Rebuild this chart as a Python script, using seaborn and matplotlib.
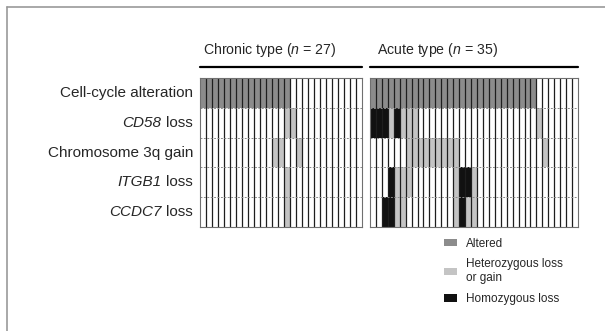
#!/usr/bin/env python3

import numpy as np
import matplotlib
matplotlib.use("Agg")
import matplotlib.pyplot as plt
from matplotlib.colors import ListedColormap
from matplotlib.patches import Patch
from matplotlib.lines import Line2D
from matplotlib.offsetbox import TextArea, HPacker, AnnotationBbox
import seaborn as sns

# row labels: italic part (gene name) + upright part
row_italic = ["", "CD58", "", "ITGB1", "CCDC7"]
row_plain = ["Cell-cycle alteration", "loss", "Chromosome 3q gain", "loss", "loss"]

# one string per row, one char per patient
# A = altered, H = heterozygous loss or gain, B = homozygous loss, . = none
chronic_rows = [
    "AAAAAAAAAAAAAAA............",
    "..............HH...........",
    "............HH..H..........",
    "..............H............",
    "..............H............",
]
acute_rows = [
    "AAAAAAAAAAAAAAAAAAAAAAAAAAAA.......",
    "BBBHBHHH....................H......",
    "......HHHHHHHHH..............H.....",
    "...BHHH.......HBBH.................",
    "..BBHH........HBHH.................",
]

panel_titles = [r"Chronic type ($\it{n}$ = 27)", r"Acute type ($\it{n}$ = 35)"]
legend_labels = ["Altered", "Heterozygous loss\nor gain", "Homozygous loss"]

code = {".": 0, "A": 1, "H": 2, "B": 3}
colors = ["#ffffff", "#8c8c8c", "#c4c4c4", "#111111"]


def to_matrix(rows):
    return np.array([[code[c] for c in r] for r in rows])


def add_row_labels(ax, nrow):
    ax.set_yticks([])
    for i in range(nrow):
        parts = []
        if row_italic[i]:
            parts.append(TextArea(row_italic[i],
                                  textprops=dict(fontsize=11, fontstyle="italic")))
        parts.append(TextArea(row_plain[i], textprops=dict(fontsize=11)))
        box = HPacker(children=parts, align="baseline", pad=0, sep=3.5)
        ab = AnnotationBbox(box, (-7 / 162, i + 0.5),
                            xycoords=ax.get_yaxis_transform(),
                            box_alignment=(1, 0.5), frameon=False,
                            annotation_clip=False)
        ax.add_artist(ab)


def draw_panel(ax, mat, title, title_x, show_labels):
    nrow, ncol = mat.shape
    sns.heatmap(mat, cmap=ListedColormap(colors), vmin=-0.5, vmax=3.5,
                cbar=False, linewidths=0, ax=ax)
    ax.vlines(np.arange(1, ncol), 0, nrow, color="#1e1e1e", lw=0.9)
    ax.hlines(np.arange(1, nrow), 0, ncol, color="#8a8a8a", lw=0.7,
              linestyles=(0, (2, 1.5)))
    for s in ax.spines.values():
        s.set_visible(True)
        s.set_color("#707070")
        s.set_linewidth(0.8)
    ax.set_xticks([])
    ax.set_yticks([])
    if show_labels:
        add_row_labels(ax, nrow)
    ax.plot([0, 1.0], [1.077, 1.077], transform=ax.transAxes, color="black",
            lw=1.6, clip_on=False)
    ax.text(title_x, 1.19, title, transform=ax.transAxes, ha="left",
            va="center", fontsize=10.2)


def main():
    sns.set_style("white")
    plt.rcParams["font.family"] = ["Liberation Sans", "DejaVu Sans"]
    plt.rcParams["mathtext.fontset"] = "custom"
    plt.rcParams["mathtext.rm"] = "Liberation Sans"
    plt.rcParams["mathtext.it"] = "Liberation Sans:italic"

    fig = plt.figure(figsize=(6.05, 3.31), dpi=100)
    ax1 = fig.add_axes([200 / 605, 1 - 227 / 331, 162 / 605, 149 / 331])
    ax2 = fig.add_axes([370 / 605, 1 - 227 / 331, 208 / 605, 149 / 331])

    draw_panel(ax1, to_matrix(chronic_rows), panel_titles[0], 3 / 162, True)
    draw_panel(ax2, to_matrix(acute_rows), panel_titles[1], 7 / 208, False)

    # scanned frame lines
    fig.add_artist(Line2D([7 / 605, 1], [1 - 7 / 331, 1 - 7 / 331],
                          color="#999999", lw=1.2))
    fig.add_artist(Line2D([7 / 605, 7 / 605], [0, 1 - 7 / 331],
                          color="#999999", lw=1.2))

    handles = [Patch(facecolor=c, edgecolor="none") for c in colors[1:]]
    fig.legend(handles, legend_labels, loc="upper left",
               bbox_to_anchor=(433 / 605, 1 - 227 / 331), frameon=False,
               fontsize=8.5, handlelength=1.1, handleheight=0.6,
               handletextpad=0.8, labelspacing=0.75)

    fig.savefig("out.png", dpi=100)


if __name__ == "__main__":
    main()
